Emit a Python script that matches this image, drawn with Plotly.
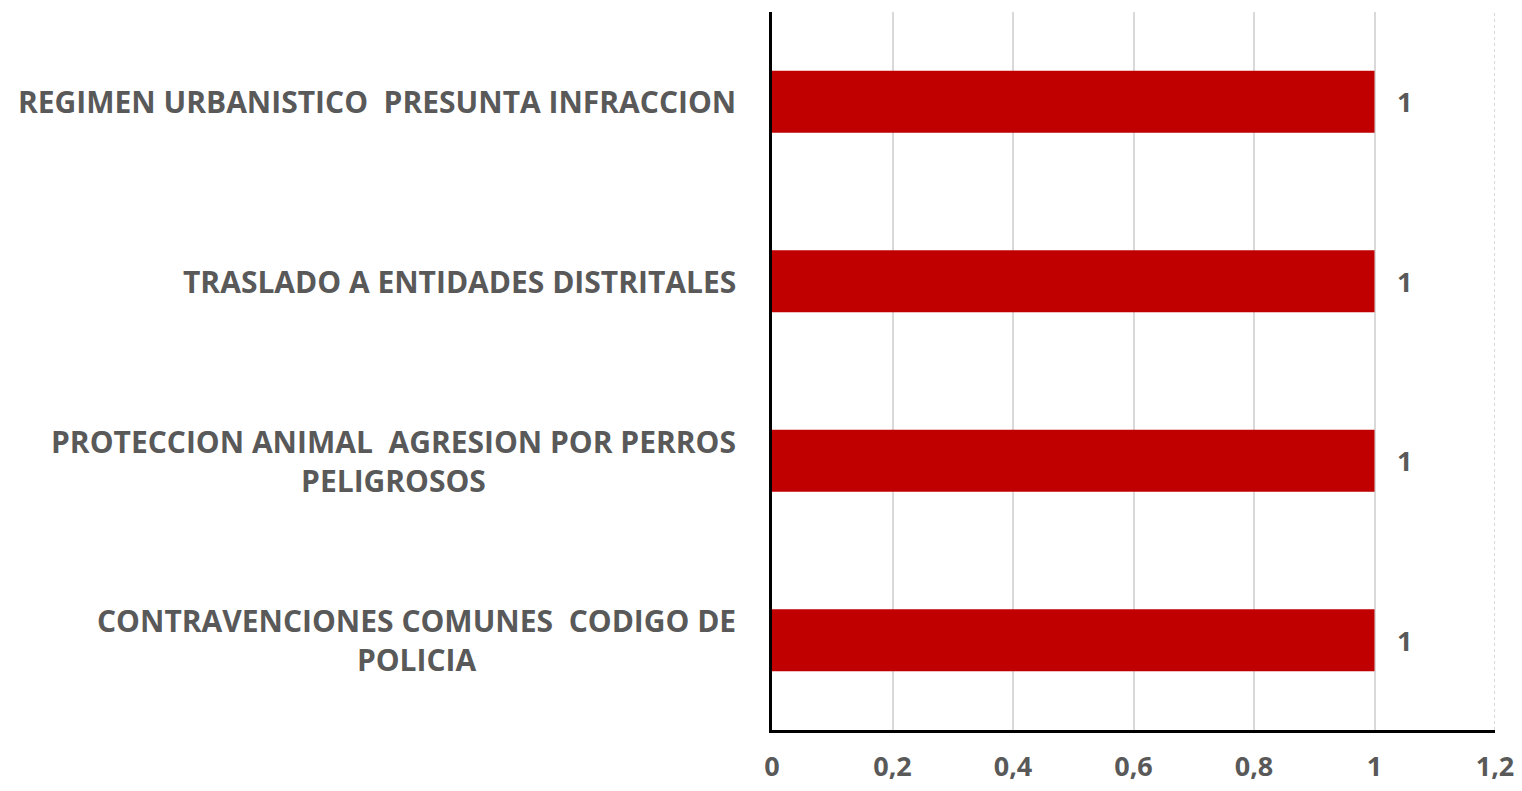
import plotly.graph_objects as go

categories = [
    "REGIMEN URBANISTICO  PRESUNTA INFRACCION",
    "TRASLADO A ENTIDADES DISTRITALES",
    "PROTECCION ANIMAL  AGRESION POR PERROS<br>PELIGROSOS",
    "CONTRAVENCIONES COMUNES  CODIGO DE<br>POLICIA",
]
values = [1, 1, 1, 1]
x_ticks = [0, 0.2, 0.4, 0.6, 0.8, 1.0, 1.2]

FONT = "Open Sans"
GREY = "#595959"

fig = go.Figure()
fig.add_trace(go.Bar(
    y=categories, x=values, orientation="h",
    marker=dict(color="#C00000", line=dict(width=0)),
    width=0.345,
))

annotations = []
for c, v in zip(categories, values):
    annotations.append(dict(
        x=0, xref="paper", y=c, yref="y", text=c, showarrow=False,
        xanchor="right", align="center", xshift=-34,
        font=dict(family=FONT, size=30, color=GREY, weight="bold"),
    ))
    annotations.append(dict(
        x=v, xref="x", y=c, yref="y", text=str(v), showarrow=False,
        xanchor="left", xshift=20,
        font=dict(family=FONT, size=27, color=GREY, weight="bold"),
    ))

fig.update_layout(
    width=1522, height=791,
    margin=dict(l=772, r=27, t=12, b=61),
    paper_bgcolor="white", plot_bgcolor="white",
    separators=", ",
    showlegend=False,
    annotations=annotations,
    xaxis=dict(
        range=[0, 1.2], tickvals=x_ticks,
        tickformat=".1~f",
        showgrid=True, gridcolor="#d9d9d9", gridwidth=2,
        zeroline=False, automargin=False,
        showline=True, linecolor="black", linewidth=3,
        ticks="", ticklabelstandoff=11,
        tickfont=dict(family=FONT, size=27, color=GREY, weight="bold"),
    ),
    yaxis=dict(
        categoryorder="array", categoryarray=categories[::-1],
        showticklabels=False, showgrid=False, zeroline=False,
        automargin=False,
        showline=True, linecolor="black", linewidth=3,
    ),
)
fig.add_vline(x=x_ticks[-1], line=dict(color="#d9d9d9", width=2, dash="dot"), layer="below")

fig.write_html(
    "out.html",
    config={"displayModeBar": False},
    post_script="document.body.style.margin='0';document.body.style.overflow='hidden';",
)
